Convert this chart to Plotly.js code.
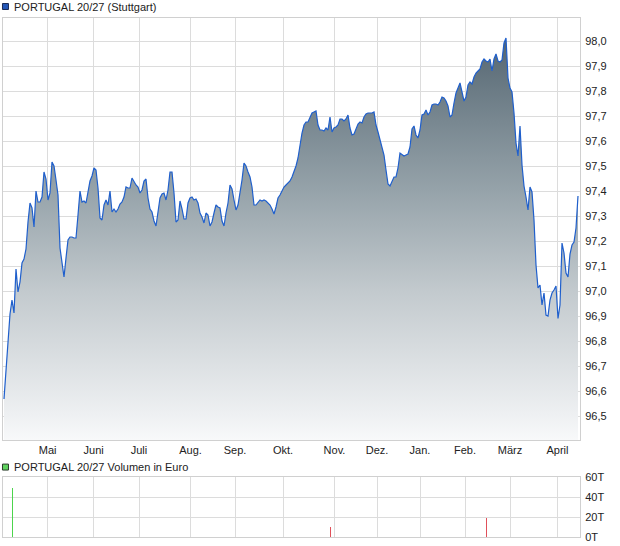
<!DOCTYPE html>
<html>
<head>
<meta charset="utf-8">
<script src="https://cdn.plot.ly/plotly-3.0.1.min.js"></script>
<style>
html,body{margin:0;padding:0;background:#fff;}
#chart{width:620px;height:546px;}
</style>
</head>
<body>
<div id="chart"></div>
<script>
// ---- data ----
const prices = [
96.568,96.684,96.776,96.908,96.964,96.912,97.088,96.996,97.036,97.112,
97.128,97.168,97.276,97.352,97.332,97.256,97.400,97.356,97.356,97.376,
97.476,97.448,97.364,97.392,97.516,97.500,97.444,97.384,97.172,97.112,
97.056,97.132,97.204,97.216,97.216,97.212,97.212,97.304,97.400,97.356,
97.360,97.352,97.396,97.440,97.460,97.492,97.484,97.412,97.292,97.284,
97.344,97.364,97.344,97.400,97.316,97.328,97.316,97.328,97.348,97.356,
97.376,97.416,97.412,97.412,97.452,97.436,97.424,97.416,97.392,97.404,
97.440,97.448,97.372,97.328,97.316,97.280,97.260,97.316,97.372,97.388,
97.392,97.364,97.404,97.476,97.476,97.392,97.276,97.284,97.360,97.328,
97.288,97.288,97.352,97.372,97.376,97.364,97.368,97.352,97.312,97.296,
97.272,97.312,97.304,97.260,97.276,97.312,97.344,97.336,97.332,97.280,
97.260,97.312,97.352,97.424,97.408,97.364,97.324,97.344,97.392,97.444,
97.512,97.500,97.476,97.456,97.416,97.344,97.344,97.356,97.364,97.360,
97.364,97.360,97.352,97.344,97.328,97.308,97.336,97.372,97.384,97.404,
97.416,97.424,97.432,97.440,97.456,97.476,97.500,97.532,97.584,97.632,
97.664,97.676,97.676,97.696,97.712,97.716,97.720,97.664,97.644,97.644,
97.640,97.652,97.644,97.696,97.636,97.652,97.656,97.664,97.688,97.688,
97.680,97.688,97.704,97.652,97.624,97.628,97.652,97.668,97.676,97.672,
97.696,97.708,97.712,97.712,97.712,97.716,97.664,97.636,97.604,97.576,
97.544,97.484,97.428,97.420,97.436,97.456,97.456,97.492,97.552,97.544,
97.540,97.544,97.548,97.576,97.648,97.660,97.624,97.612,97.644,97.704,
97.708,97.724,97.704,97.716,97.744,97.748,97.748,97.744,97.756,97.776,
97.772,97.760,97.740,97.696,97.704,97.752,97.792,97.812,97.832,97.796,
97.760,97.776,97.824,97.836,97.828,97.856,97.872,97.880,97.888,97.916,
97.928,97.920,97.916,97.928,97.880,97.928,97.948,97.920,97.916,97.924,
97.992,98.012,97.852,97.812,97.796,97.712,97.592,97.540,97.660,97.504,
97.420,97.376,97.324,97.416,97.396,97.284,97.104,97.012,97.024,96.944,
96.992,96.904,96.900,96.964,96.992,97.004,97.020,96.890,96.944,97.192,
97.152,97.072,97.056,97.148,97.184,97.196,97.252,97.380
];
const monthLabels = ['Mai','Juni','Juli','Aug.','Sep.','Okt.','Nov.','Dez.','Jan.','Feb.','März','April'];
const monthStartIdx = [21.8,44.85,67.5,93.25,115.5,139.5,165.25,186.5,208,230.5,253,276.75];
const volumeIdx = [4,163,241];
const volumeThousand = [49.5,10.5,19.5];
const volumeDir = ['up','down','down'];
const volumeTicks = [0,20,40,60];
const volumeTickText = ['0T','20T','40T','60T'];
const priceTitle = 'PORTUGAL 20/27 (Stuttgart)';
const volumeTitle = 'PORTUGAL 20/27 Volumen in Euro';

// ---- build ----
const days = prices.map((_, i) => i);
const GRID = '#dcdcdc';
const BORDER = '#d0d0d0';
const yLo = 96.404, yHi = 98.092;

const priceTrace = {
  type: 'scatter', mode: 'lines',
  x: days, y: prices,
  xaxis: 'x', yaxis: 'y',
  line: {color: '#1f5fcc', width: 1.2},
  fill: 'tozeroy',
  fillgradient: {
    type: 'vertical', start: yLo, stop: yHi,
    colorscale: [
      [0, '#f8f9fa'], [0.06, '#eef0f2'], [0.35, '#c3cace'],
      [0.59, '#96a3aa'], [0.83, '#6b7b85'], [1, '#4c5d69']
    ]
  },
  hoverinfo: 'skip'
};

const volTrace = {
  type: 'bar',
  x: volumeIdx, y: volumeThousand,
  xaxis: 'x2', yaxis: 'y2',
  width: 0.5,
  marker: {color: volumeDir.map(d => d === 'up' ? '#4cd44c' : '#e0505a'), line: {width: 0}},
  hoverinfo: 'skip'
};

const axBase = {
  showgrid: true, gridcolor: GRID, gridwidth: 1,
  zeroline: false, showline: true, mirror: true, linecolor: BORDER, linewidth: 1,
  ticks: ''
};

const layout = {
  width: 620, height: 546,
  margin: {l: 3, r: 40, t: 18, b: 9, pad: 0},
  paper_bgcolor: '#ffffff', plot_bgcolor: '#ffffff',
  showlegend: false,
  separators: ',.',
  font: {family: 'Liberation Sans, Arial, sans-serif', size: 11, color: '#222'},
  bargap: 0,
  xaxis: Object.assign({}, axBase, {
    domain: [0, 1], anchor: 'y',
    range: [-0.5, 288],
    tickmode: 'array', tickvals: monthStartIdx, ticktext: monthLabels,
    tickfont: {size: 11, color: '#222'}
  }),
  yaxis: Object.assign({}, axBase, {
    domain: [0.1869, 1], anchor: 'x', side: 'right',
    range: [yLo, yHi], tick0: 96.5, dtick: 0.1, tickformat: '.1f',
    tickfont: {size: 11, color: '#222'}, ticklabelstandoff: 2
  }),
  xaxis2: Object.assign({}, axBase, {
    domain: [0, 1], anchor: 'y2', matches: 'x',
    range: [-0.5, 288],
    tickmode: 'array', tickvals: monthStartIdx, showticklabels: false
  }),
  yaxis2: Object.assign({}, axBase, {
    domain: [0, 0.1156], anchor: 'x2', side: 'right',
    range: [0, 60], tickmode: 'array', tickvals: volumeTicks, ticktext: volumeTickText,
    tickfont: {size: 11, color: '#222'}, ticklabelstandoff: 2
  }),
  shapes: [
    {type: 'rect', xref: 'paper', yref: 'paper',
     x0: -0.0009, x1: 0.0095, y0: 1.0164, y1: 1.0279,
     fillcolor: '#2457b8', line: {color: '#1a2a55', width: 1}},
    {type: 'rect', xref: 'paper', yref: 'paper',
     x0: -0.0009, x1: 0.0095, y0: 0.1290, y1: 0.1405,
     fillcolor: '#5fd35f', line: {color: '#2a3a2a', width: 1}}
  ],
  annotations: [
    {xref: 'paper', yref: 'paper', x: 0.0156, y: 1.0212, xanchor: 'left', yanchor: 'middle',
     text: priceTitle, showarrow: false, font: {size: 11, color: '#222'}},
    {xref: 'paper', yref: 'paper', x: 0.0156, y: 0.1349, xanchor: 'left', yanchor: 'middle',
     text: volumeTitle, showarrow: false, font: {size: 11, color: '#222'}}
  ]
};

Plotly.newPlot('chart', [priceTrace, volTrace], layout, {staticPlot: true, displayModeBar: false});
</script>
</body>
</html>
